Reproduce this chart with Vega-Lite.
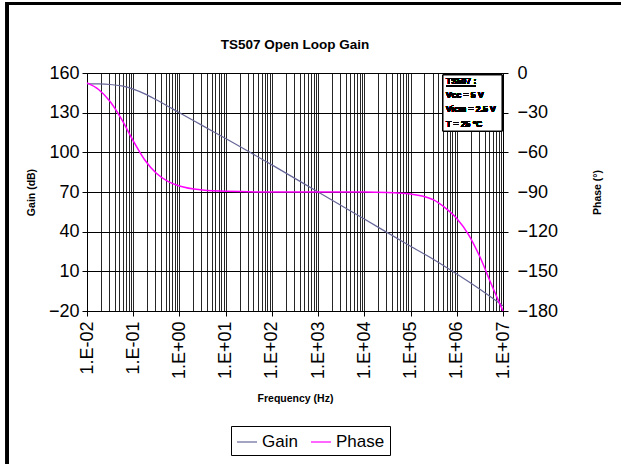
{
  "$schema": "https://vega.github.io/schema/vega-lite/v6.json",
  "width": 416,
  "height": 238,
  "autosize": {"type": "none"},
  "padding": {"left": 87, "top": 73, "right": 118, "bottom": 153},
  "background": "white",
  "title": {"text": "TS507 Open Loop Gain", "font": "Liberation Sans", "fontSize": 13.5, "fontWeight": "bold", "color": "black", "anchor": "middle", "frame": "group", "offset": -50},
  "config": {"view": {"stroke": "#808080", "strokeWidth": 1}, "font": "Liberation Sans"},
  "data": {"values": [
    {"freq": 0.01, "series": "Gain", "value": 151.8},
    {"freq": 0.0178, "series": "Gain", "value": 151.7},
    {"freq": 0.0316, "series": "Gain", "value": 151.3},
    {"freq": 0.0562, "series": "Gain", "value": 150.2},
    {"freq": 0.1, "series": "Gain", "value": 147.8},
    {"freq": 0.178, "series": "Gain", "value": 144.2},
    {"freq": 0.316, "series": "Gain", "value": 139.7},
    {"freq": 0.562, "series": "Gain", "value": 134.9},
    {"freq": 1, "series": "Gain", "value": 129.9},
    {"freq": 3.16, "series": "Gain", "value": 120.2},
    {"freq": 10, "series": "Gain", "value": 110.5},
    {"freq": 100, "series": "Gain", "value": 90.5},
    {"freq": 1000, "series": "Gain", "value": 70},
    {"freq": 10000, "series": "Gain", "value": 49.5},
    {"freq": 100000, "series": "Gain", "value": 29},
    {"freq": 316000, "series": "Gain", "value": 19},
    {"freq": 1000000, "series": "Gain", "value": 8},
    {"freq": 3160000, "series": "Gain", "value": -3.5},
    {"freq": 10000000, "series": "Gain", "value": -16},
    {"freq": 0.01, "series": "Phase", "value": -7.5},
    {"freq": 0.0178, "series": "Phase", "value": -12.5},
    {"freq": 0.0316, "series": "Phase", "value": -21.6},
    {"freq": 0.0562, "series": "Phase", "value": -35.1},
    {"freq": 0.1, "series": "Phase", "value": -51.3},
    {"freq": 0.178, "series": "Phase", "value": -65.8},
    {"freq": 0.316, "series": "Phase", "value": -75.8},
    {"freq": 0.562, "series": "Phase", "value": -81.9},
    {"freq": 1, "series": "Phase", "value": -85.4},
    {"freq": 3.16, "series": "Phase", "value": -88.5},
    {"freq": 10, "series": "Phase", "value": -89.5},
    {"freq": 100, "series": "Phase", "value": -90},
    {"freq": 1000, "series": "Phase", "value": -90},
    {"freq": 10000, "series": "Phase", "value": -90},
    {"freq": 31600, "series": "Phase", "value": -90.3},
    {"freq": 100000, "series": "Phase", "value": -91.5},
    {"freq": 178000, "series": "Phase", "value": -93},
    {"freq": 316000, "series": "Phase", "value": -96},
    {"freq": 562000, "series": "Phase", "value": -102},
    {"freq": 1000000, "series": "Phase", "value": -110},
    {"freq": 1780000, "series": "Phase", "value": -122},
    {"freq": 3160000, "series": "Phase", "value": -139},
    {"freq": 5620000, "series": "Phase", "value": -160},
    {"freq": 10000000, "series": "Phase", "value": -180}
  ]},
  "layer": [
    {
      "transform": [{"filter": "datum.series === 'Gain'"}],
      "mark": {"type": "line", "interpolate": "monotone", "strokeWidth": 1.2},
      "encoding": {
        "x": {
          "field": "freq", "type": "quantitative",
          "scale": {"type": "log", "domain": [0.01, 10000000], "nice": false},
          "axis": {
            "values": [0.01,0.02,0.03,0.04,0.05,0.06,0.07,0.08,0.09,0.1,0.2,0.3,0.4,0.5,0.6,0.7,0.8,0.9,1,2,3,4,5,6,7,8,9,10,20,30,40,50,60,70,80,90,100,200,300,400,500,600,700,800,900,1000,2000,3000,4000,5000,6000,7000,8000,9000,10000,20000,30000,40000,50000,60000,70000,80000,90000,100000,200000,300000,400000,500000,600000,700000,800000,900000,1000000,2000000,3000000,4000000,5000000,6000000,7000000,8000000,9000000,10000000],
            "labelExpr": "abs(log(datum.value)/LN10 - round(log(datum.value)/LN10)) < 0.001 ? '1.E' + (round(log(datum.value)/LN10) < 0 ? '-' : '+') + pad(toString(abs(round(log(datum.value)/LN10))), 2, '0', 'left') : ''",
            "labelAngle": -90,
            "labelAlign": "right",
            "labelBaseline": "middle",
            "labelFont": "Liberation Sans",
            "labelFontSize": 18,
            "labelColor": "black",
            "labelPadding": 5,
            "labelOverlap": false,
            "labelBound": false,
            "labelFlush": false,
            "tickSize": 5,
            "tickColor": "black",
            "tickOpacity": {"condition": {"test": "abs(log(datum.value)/LN10 - round(log(datum.value)/LN10)) < 0.001", "value": 1}, "value": 0},
            "grid": true,
            "gridColor": "#000000",
            "gridWidth": 1,
            "gridOpacity": 0.85,
            "domainColor": "black",
            "title": "Frequency (Hz)",
            "titleFont": "Liberation Sans",
            "titleFontSize": 10.5,
            "titleFontWeight": "bold",
            "titleColor": "black",
            "titlePadding": 15
          }
        },
        "y": {
          "field": "value", "type": "quantitative",
          "scale": {"domain": [-20, 160], "nice": false, "zero": false},
          "axis": {
            "values": [-20, 10, 40, 70, 100, 130, 160],
            "labelOverlap": false,
            "grid": true,
            "gridColor": "#000000",
            "gridWidth": 1,
            "domainColor": "black",
            "tickColor": "black",
            "tickSize": 5,
            "labelFont": "Liberation Sans",
            "labelFontSize": 18,
            "labelColor": "black",
            "labelPadding": 3,
            "title": "Gain (dB)",
            "titleFont": "Liberation Sans",
            "titleFontSize": 10.5,
            "titleFontWeight": "bold",
            "titleColor": "black",
            "titlePadding": 12
          }
        },
        "color": {
          "field": "series", "type": "nominal",
          "scale": {"domain": ["Gain", "Phase"], "range": ["#666699", "#FF00FF"]},
          "legend": {
            "orient": "none",
            "legendX": 144,
            "legendY": 353,
            "direction": "horizontal",
            "title": null,
            "strokeColor": "black",
            "fillColor": "white",
            "padding": 5,
            "symbolType": "stroke",
            "symbolSize": 400,
            "symbolStrokeWidth": 1.2,
            "labelFont": "Liberation Sans",
            "labelFontSize": 17,
            "labelColor": "black",
            "columnPadding": 10,
            "labelOffset": 4
          }
        }
      }
    },
    {
      "transform": [{"filter": "datum.series === 'Phase'"}],
      "mark": {"type": "line", "interpolate": "monotone", "strokeWidth": 1.5},
      "encoding": {
        "x": {"field": "freq", "type": "quantitative", "scale": {"type": "log", "domain": [0.01, 10000000], "nice": false}},
        "y": {
          "field": "value", "type": "quantitative",
          "scale": {"domain": [-180, 0], "nice": false, "zero": false},
          "axis": {
            "orient": "right",
            "values": [-180, -150, -120, -90, -60, -30, 0],
            "labelOverlap": false,
            "grid": false,
            "domainColor": "black",
            "tickColor": "black",
            "tickSize": 5,
            "labelFont": "Liberation Sans",
            "labelFontSize": 18,
            "labelColor": "black",
            "labelPadding": 9,
            "title": "Phase (°)",
            "titleAngle": 270,
            "titleFont": "Liberation Sans",
            "titleFontSize": 10.5,
            "titleFontWeight": "bold",
            "titleColor": "black",
            "titlePadding": 45
          }
        },
        "color": {"field": "series", "type": "nominal"}
      }
    },
    {
      "layer": [
        {
          "mark": {"type": "rect", "fill": null, "fillOpacity": 0, "stroke": "black", "strokeWidth": 3},
          "encoding": {
            "x": {"datum": 0.00019, "type": "quantitative"},
            "x2": {"datum": 4000000000},
            "y": {"datum": 212.6, "type": "quantitative", "scale": {"domain": [-20, 160], "nice": false, "zero": false}, "axis": null},
            "y2": {"datum": -140}
          }
        },
        {
          "mark": {"type": "rect", "fill": "white", "stroke": "black", "strokeWidth": 1},
          "encoding": {
            "x": {"datum": 504000, "type": "quantitative"},
            "x2": {"datum": 9500000},
            "y": {"datum": 158.5, "type": "quantitative", "axis": null},
            "y2": {"datum": 116.1}
          }
        },
        {
          "mark": {"type": "text", "align": "left", "baseline": "top", "font": "Liberation Sans", "fontSize": 8.5, "fontWeight": "bold", "color": "black", "lineHeight": 14.2},
          "encoding": {
            "x": {"datum": 585000, "type": "quantitative"},
            "y": {"datum": 156.9, "type": "quantitative", "axis": null},
            "text": {"value": ["TS507 :", "Vcc = 5 V", "Vicm = 2.5 V", "T = 25 °C"]}
          }
        },
        {
          "mark": {"type": "rule", "color": "black", "strokeWidth": 1},
          "encoding": {
            "x": {"datum": 585000, "type": "quantitative"},
            "x2": {"datum": 2600000},
            "y": {"datum": 150.2, "type": "quantitative", "axis": null}
          }
        }
      ]
    }
  ],
  "resolve": {"scale": {"y": "independent"}}
}
